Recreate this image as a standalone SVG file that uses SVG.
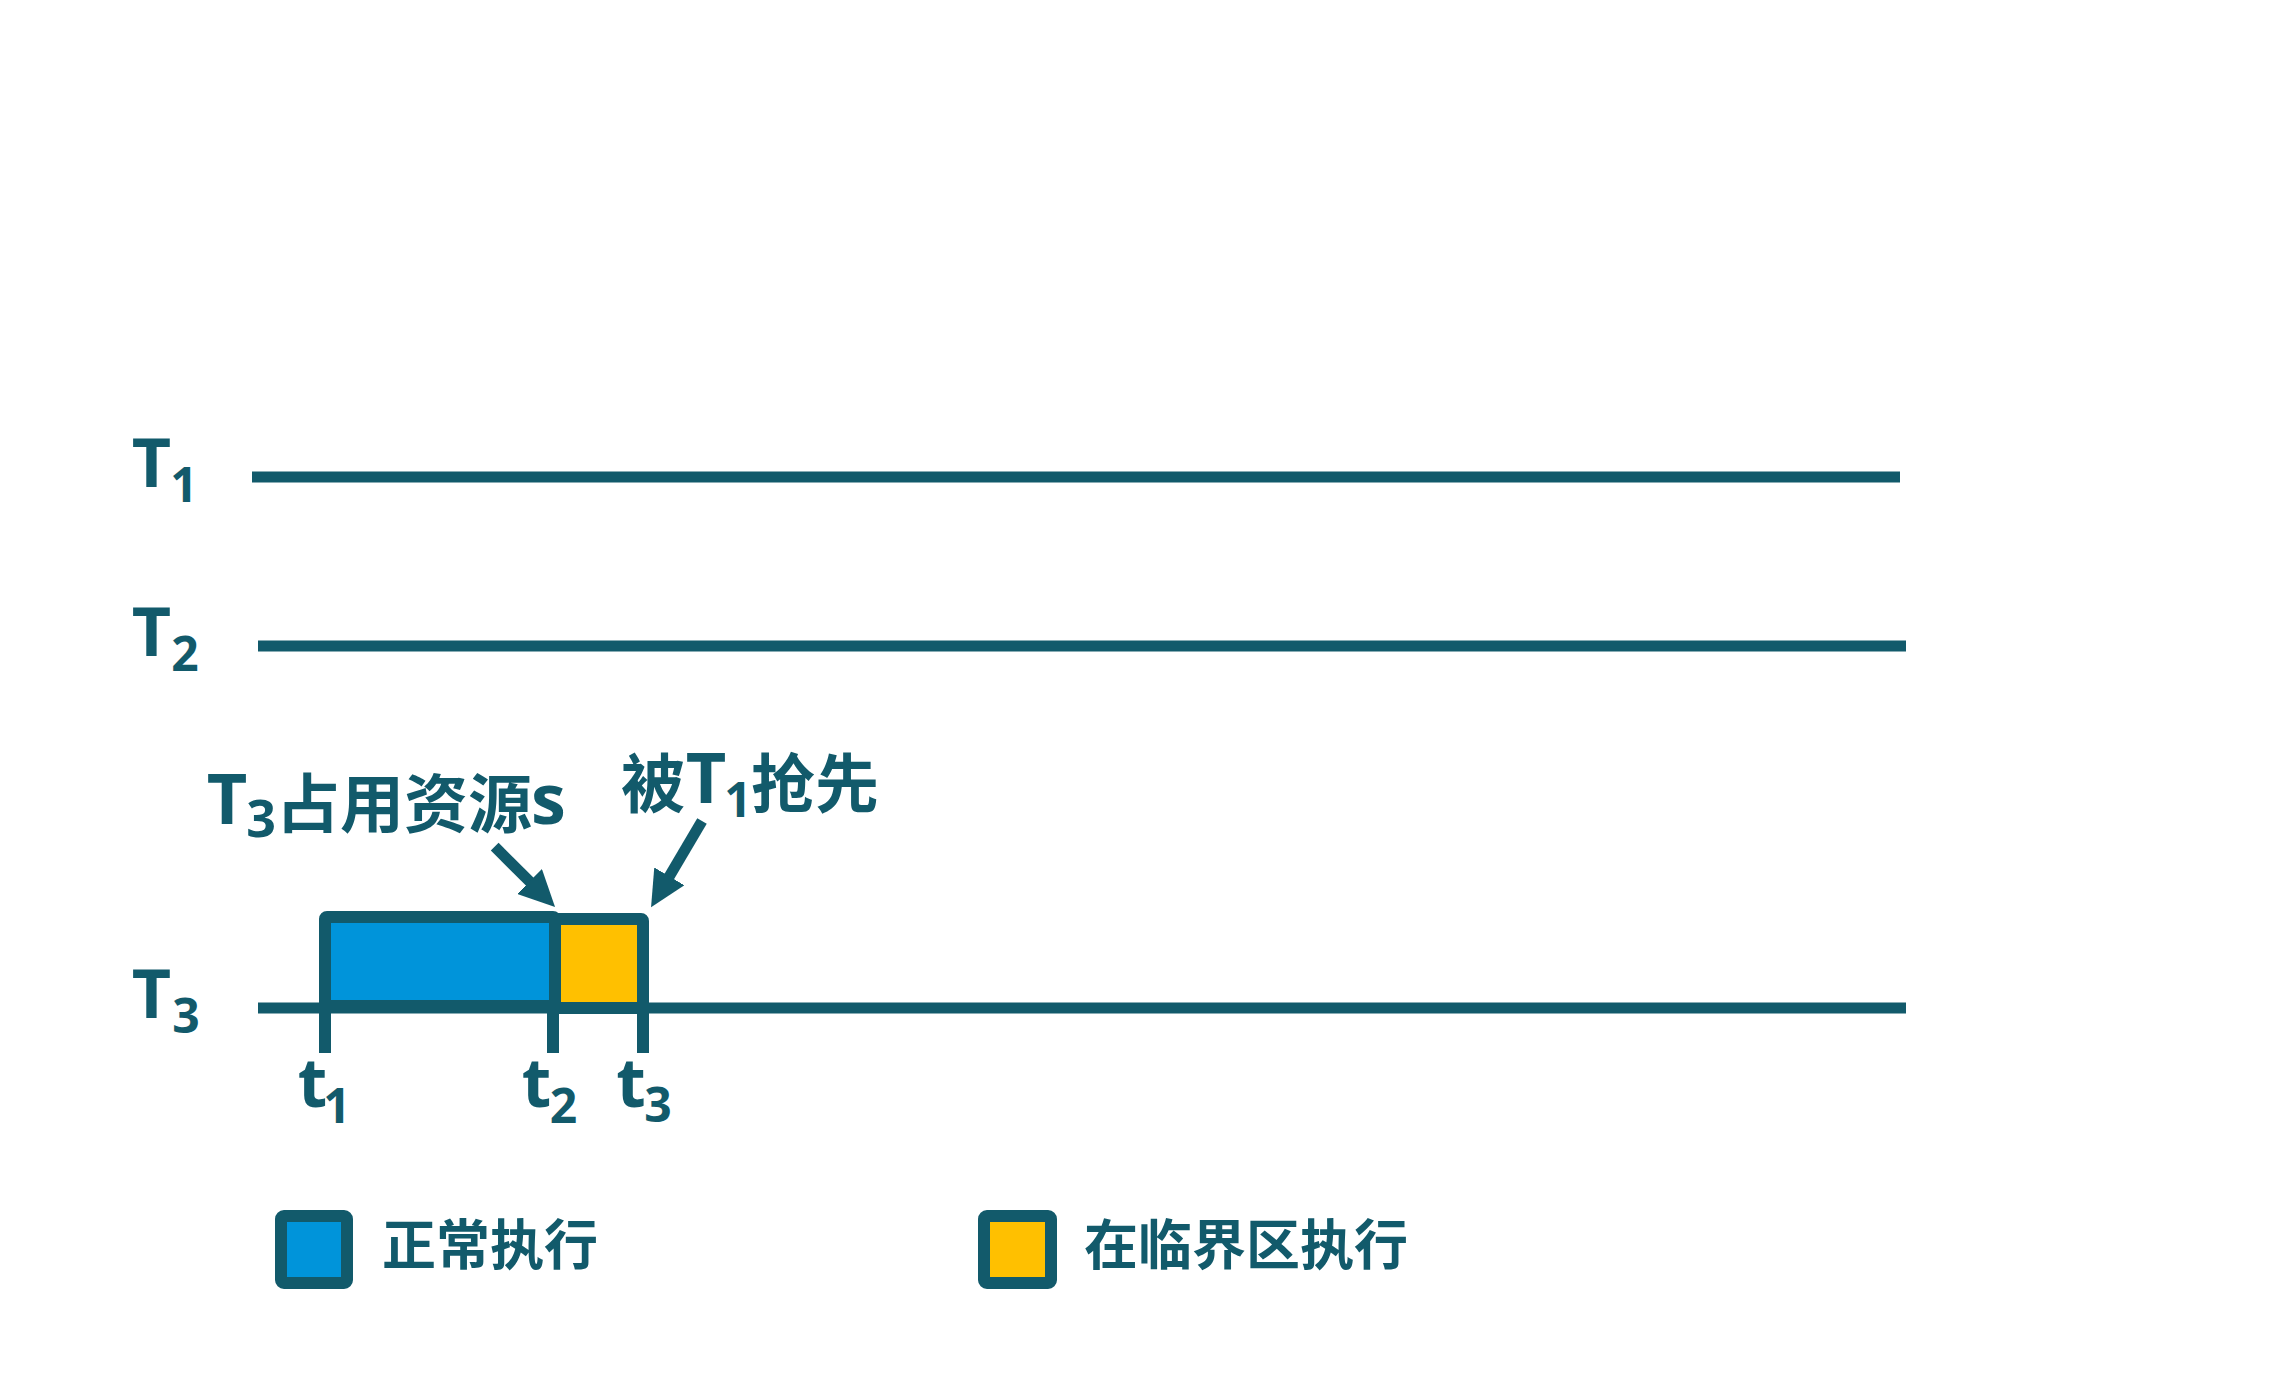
<svg xmlns="http://www.w3.org/2000/svg" width="2296" height="1394" viewBox="0 0 2296 1394">
<style>
.ln{stroke:#125A6B;stroke-width:11;fill:none}
.tk{stroke:#125A6B;stroke-width:12;fill:none}
.box{stroke:#125A6B;stroke-width:12;stroke-linejoin:round}
.blue{fill:#0094DA}
.yel{fill:#FFC000}
.lat{font-family:"Open Sans","Noto Sans","Noto Sans CJK SC",sans-serif;font-weight:bold;fill:#125A6B}
.cjk{font-family:"Noto Sans CJK SC","Noto Sans",sans-serif;font-weight:bold;fill:#125A6B}
.arr{stroke:#125A6B;stroke-width:11;fill:none}
</style>
<defs>
<marker id="head" viewBox="0 0 36 35" refX="6" refY="17.5" markerWidth="36" markerHeight="35" markerUnits="userSpaceOnUse" orient="auto">
<path d="M0,0 L36,17.5 L0,35 Z" fill="#125A6B"/>
</marker>
</defs>
<rect width="2296" height="1394" fill="#FFFFFF"/>
<g id="timeline-T1">
<line class="ln" x1="252" y1="477" x2="1900" y2="477"/>
<text class="lat"><tspan x="151.5" y="487" font-size="68" text-anchor="middle">T</tspan><tspan x="184" y="502" font-size="48" text-anchor="middle">1</tspan></text>
</g>
<g id="timeline-T2">
<line class="ln" x1="258" y1="646" x2="1906" y2="646"/>
<text class="lat"><tspan x="151.5" y="656" font-size="68" text-anchor="middle">T</tspan><tspan x="185" y="671" font-size="48" text-anchor="middle">2</tspan></text>
</g>
<g id="timeline-T3">
<line class="ln" x1="258" y1="1008" x2="1906" y2="1008"/>
<text class="lat"><tspan x="151.5" y="1018" font-size="68" text-anchor="middle">T</tspan><tspan x="186" y="1033" font-size="48" text-anchor="middle">3</tspan></text>
</g>
<g id="block-normal">
<rect class="box blue" x="325" y="917" width="230" height="89" rx="2"/>
</g>
<g id="block-critical">
<rect class="box yel" x="555" y="919" width="88" height="89" rx="2"/>
</g>
<g id="ticks">
<line class="tk" x1="325" y1="1004" x2="325" y2="1053"/>
<line class="tk" x1="553" y1="1004" x2="553" y2="1053"/>
<line class="tk" x1="643" y1="1004" x2="643" y2="1053"/>
<text class="lat"><tspan x="312.5" y="1107" font-size="68" text-anchor="middle">t</tspan><tspan x="337" y="1123" font-size="48" text-anchor="middle">1</tspan></text>
<text class="lat"><tspan x="536.5" y="1107" font-size="68" text-anchor="middle">t</tspan><tspan x="563.5" y="1123" font-size="48" text-anchor="middle">2</tspan></text>
<text class="lat"><tspan x="631" y="1107" font-size="68" text-anchor="middle">t</tspan><tspan x="658" y="1122" font-size="48" text-anchor="middle">3</tspan></text>
</g>
<g id="label-occupy">
<text><tspan class="lat" x="227" y="824" font-size="70" text-anchor="middle">T</tspan><tspan class="lat" x="261" y="837" font-size="52" text-anchor="middle">3</tspan><tspan class="cjk" x="276" y="827" font-size="64">占用资源</tspan><tspan class="lat" x="548.5" y="824" font-size="70" text-anchor="middle">s</tspan></text>
</g>
<g id="label-preempt">
<text><tspan class="cjk" x="621" y="807" font-size="64">被</tspan><tspan class="lat" x="706" y="803" font-size="70" text-anchor="middle">T</tspan><tspan class="lat" x="738" y="817" font-size="48" text-anchor="middle">1</tspan><tspan class="cjk" x="751" y="807" font-size="64">抢先</tspan></text>
</g>
<g id="connectors">
<line class="arr" x1="494.7" y1="846.7" x2="533.8" y2="885.7" marker-end="url(#head)"/>
<line class="arr" x1="702" y1="821" x2="666.3" y2="881.5" marker-end="url(#head)"/>
</g>
<g id="legend-normal">
<rect class="box blue" x="281" y="1216" width="66" height="67" rx="3"/>
<text class="cjk" x="382" y="1265" font-size="54">正常执行</text>
</g>
<g id="legend-critical">
<rect class="box yel" x="984" y="1216" width="67" height="67" rx="3"/>
<text class="cjk" x="1084" y="1265" font-size="54">在临界区执行</text>
</g>
</svg>
